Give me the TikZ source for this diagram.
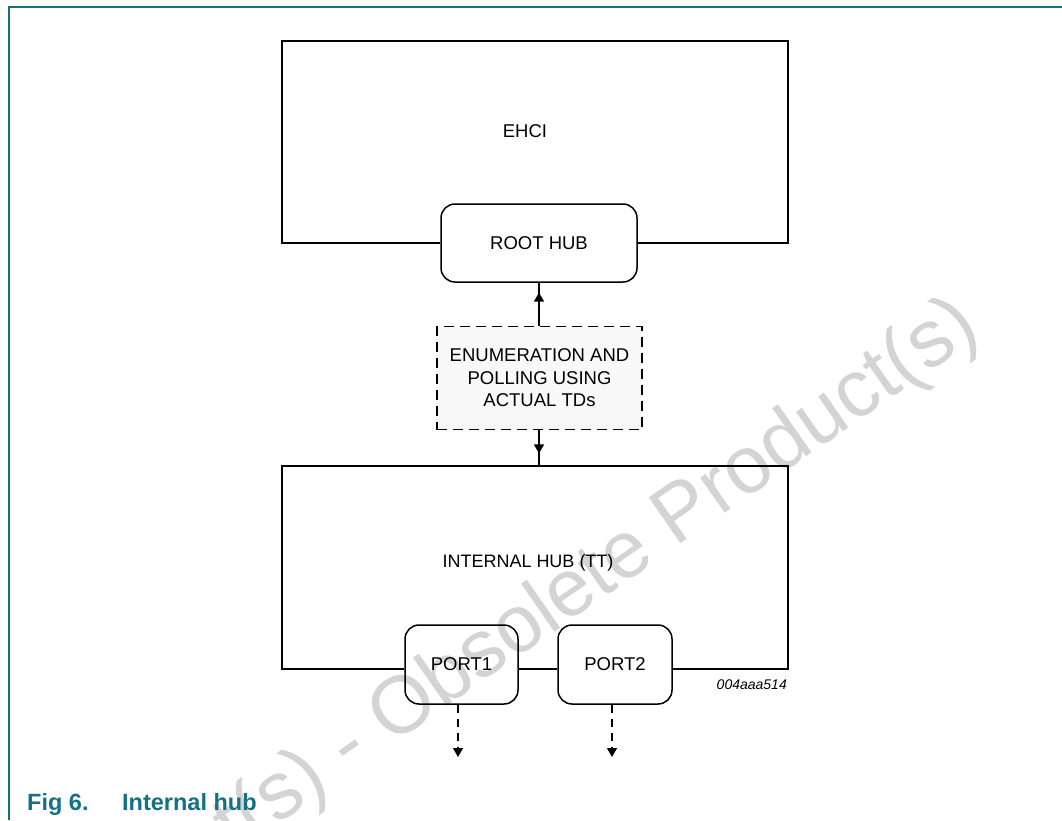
\documentclass[tikz,border=0pt]{standalone}
\usepackage{fontspec}
\setmainfont{Liberation Sans}
\usetikzlibrary{arrows.meta,decorations.markings}
\definecolor{teal1}{RGB}{22,112,132}
\definecolor{wm}{RGB}{212,212,212}
\definecolor{dfill}{RGB}{249,249,249}
\begin{document}
\begin{tikzpicture}[x=1pt,y=-1pt,
  lbl/.style={font=\fontsize{18.5}{22.5}\selectfont, inner sep=0pt, align=center},
  area/.style={inner sep=0pt, draw=none},
  rbox/.style={draw=black, line width=1.5pt, rounded corners=14pt, inner sep=0pt, font=\fontsize{18.5}{22.5}\selectfont},
  dbox/.style={draw=black, line width=1.5pt, dash pattern=on 10pt off 6pt, fill=dfill, inner sep=0pt, align=center, font=\fontsize{18.5}{22.5}\selectfont},
  ln/.style={line width=1.5pt, black},
  midarr/.style={ln, postaction={decorate}, decoration={markings, mark=at position #1 with {\arrow{Triangle[width=10pt,length=9pt]}}}},
  darr/.style={line width=1.3pt, dash pattern=on 8pt off 6pt, -{Triangle[width=10pt,length=9pt]}},
  captext/.style={font=\fontsize{23.5}{27}\selectfont\bfseries, text=teal1, anchor=base west, inner sep=0pt}
]
\useasboundingbox (0,0) rectangle (1062,820);
% watermark
\node[text=wm, rotate=34.8, font=\fontsize{81}{81}\selectfont, inner sep=0pt] (wmark) at (492,650) {Product(s) - Obsolete Product(s)};
% frame
\draw[teal1, line width=2pt] (9,820) -- (9,7) -- (1062,7);
% areas
\node[area, minimum width=506pt, minimum height=202pt] (ehci) at (535,142) {};
\node[area, minimum width=506pt, minimum height=203pt] (hub) at (535,567.5) {};
\node[lbl] (ehcitxt) at (525,131) {EHCI};
\node[lbl, font=\fontsize{18}{22}\selectfont] (hubtxt) at (528,563) {INTERNAL HUB (TT)};
% boxes
\node[rbox, minimum width=196pt, minimum height=78pt] (root) at (539,243) {ROOT HUB};
\node[dbox, minimum width=205pt, minimum height=103pt] (enum) at (539.5,378) {ENUMERATION AND\\POLLING USING\\ACTUAL TDs};
\node[rbox, minimum width=113pt, minimum height=79pt] (port1) at (461.5,664.5) {PORT1};
\node[rbox, minimum width=114pt, minimum height=79pt] (port2) at (615,664.5) {PORT2};
% outlines
\draw[ln] (root.west |- ehci.south) -- (ehci.south west) -- (ehci.north west) -- (ehci.north east) -- (ehci.south east) -- (root.east |- ehci.south);
\draw[ln] (port1.west |- hub.south) -- (hub.south west) -- (hub.north west) -- (hub.north east) -- (hub.south east) -- (port2.east |- hub.south);
\draw[ln] (port1.east |- hub.south) -- (port2.west |- hub.south);
% connectors
\draw[midarr=0.77] (root.south |- enum.north) -- (root.south);
\draw[midarr=0.65] (root.south |- enum.south) -- (root.south |- hub.north);
\coordinate (e1) at (458,757);
\coordinate (e2) at (612,757);
\draw[darr] (port1.south -| e1) -- (e1);
\draw[darr] (port2.south -| e2) -- (e2);
% id
\node[font=\fontsize{14}{16}\selectfont\itshape, anchor=east, inner sep=0pt] (fid) at (787,685) {004aaa514};
% caption
\node[captext] (fig) at (27,810) {Fig 6.};
\node[captext] (capt) at (122,810) {Internal hub};
\end{tikzpicture}
\end{document}
